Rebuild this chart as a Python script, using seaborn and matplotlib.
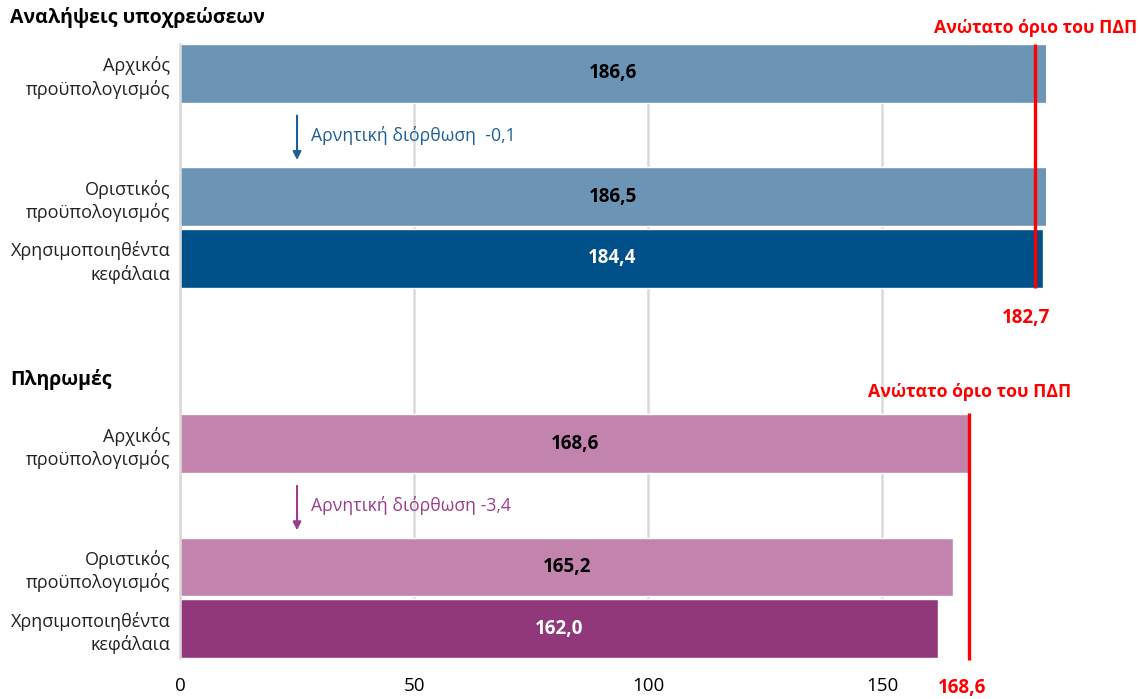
import pandas as pd
import seaborn as sns
import matplotlib.pyplot as plt

# δεδομένα
labels = ['Αρχικός\nπροϋπολογισμός', 'Οριστικός\nπροϋπολογισμός', 'Χρησιμοποιηθέντα\nκεφάλαια']
commit_values = [186.6, 186.5, 184.4]
payment_values = [168.6, 165.2, 162.0]
commit_ceiling = 182.7
payment_ceiling = 168.6
commit_correction = -0.1
payment_correction = -3.4
titles = ['Αναλήψεις υποχρεώσεων', 'Πληρωμές']
ceiling_label = 'Ανώτατο όριο του ΠΔΠ'
x_ticks = [0, 50, 100, 150]

commit_colors = ['#6c94b5', '#6c94b5', '#005089']
payment_colors = ['#c283ad', '#c283ad', '#91387b']
value_text_colors = ['black', 'black', 'white']

sns.set_theme(style='white')
plt.rcParams['font.family'] = ['Open Sans', 'DejaVu Sans']


def fmt(v):
    return f'{v:.1f}'.replace('.', ',')


# θέσεις γραμμών: 3 μπάρες με κενό για το βέλος, δύο ομάδες
commit_pos = [0, 2, 3]
payment_pos = [6, 8, 9]

df = pd.DataFrame({
    'pos': commit_pos + payment_pos,
    'value': commit_values + payment_values,
    'key': ['c0', 'c1', 'c2', 'p0', 'p1', 'p2'],
})
palette = dict(zip(df['key'], commit_colors + payment_colors))

fig = plt.figure(figsize=(11.4, 6.99), dpi=100)
ax = fig.add_axes([180 / 1140, 1 - 658 / 699, (1046 - 180) / 1140, (658 - 44) / 699])

sns.barplot(data=df, x='value', y='pos', hue='key', palette=palette, orient='h',
            native_scale=True, width=0.95, dodge=False, legend=False,
            saturation=1, ax=ax)

xmax = 185
ax.set_xlim(0, xmax)
ax.set_ylim(9.475, -0.475)
ax.set_xticks(x_ticks)
ax.set_xticklabels([str(t) for t in x_ticks])
ax.set_yticks(commit_pos + payment_pos)
ax.set_yticklabels(labels + labels)
for t in ax.get_yticklabels():
    t.set_linespacing(1.3)
ax.tick_params(axis='x', length=0, pad=14, labelsize=13.5, colors='black')
ax.tick_params(axis='y', length=0, pad=7, labelsize=13, colors='#222222')
ax.set_xlabel('')
ax.set_ylabel('')
ax.grid(axis='x', color='#d9d9d9', lw=1.8)
ax.set_axisbelow(True)
for side in ['top', 'right', 'bottom']:
    ax.spines[side].set_visible(False)
ax.spines['left'].set_color('#d9d9d9')
ax.spines['left'].set_linewidth(1.8)

# τιμές στις μπάρες
for positions, values in [(commit_pos, commit_values), (payment_pos, payment_values)]:
    for p, v, c in zip(positions, values, value_text_colors):
        ax.text(min(v, xmax) / 2, p, fmt(v), ha='center', va='center',
                fontsize=13.5, fontweight='bold', color=c)

# κόκκινες γραμμές ανώτατου ορίου
ax.vlines(commit_ceiling, -0.475, 3.475, color='#ff0000', lw=2.4, zorder=5)
ax.vlines(payment_ceiling, 5.5, 9.5, color='#ff0000', lw=2.4, zorder=5, clip_on=False)
ax.text(commit_ceiling, -0.74, ceiling_label, ha='center', va='center',
        fontsize=12.8, fontweight='bold', color='#ff0000')
ax.text(commit_ceiling - 2, 3.97, fmt(commit_ceiling), ha='center', va='center',
        fontsize=13.5, fontweight='bold', color='#ff0000')
ax.text(payment_ceiling, 5.17, ceiling_label, ha='center', va='center',
        fontsize=12.8, fontweight='bold', color='#ff0000')
ax.text(payment_ceiling - 1.5, 9.96, fmt(payment_ceiling), ha='center', va='center',
        fontsize=13.5, fontweight='bold', color='#ff0000')

# βέλη διόρθωσης
for p, corr, col, gap in [(1, commit_correction, '#1f5f97', '  '), (7, payment_correction, '#9b3d8b', ' ')]:
    ax.annotate('', xy=(25, p + 0.45), xytext=(25, p - 0.36),
                arrowprops=dict(arrowstyle='-|>', color=col, lw=1.5, mutation_scale=12))
    ax.text(28, p, 'Αρνητική διόρθωση' + gap + fmt(corr), ha='left', va='center',
            fontsize=12.7, color=col)

# τίτλοι
fig.text(10 / 1140, 1 - 18 / 699, titles[0], ha='left', va='center',
         fontsize=14, fontweight='bold', color='black')
fig.text(10 / 1140, 1 - 380 / 699, titles[1], ha='left', va='center',
         fontsize=14, fontweight='bold', color='black')

plt.savefig('out.png', dpi=100)
